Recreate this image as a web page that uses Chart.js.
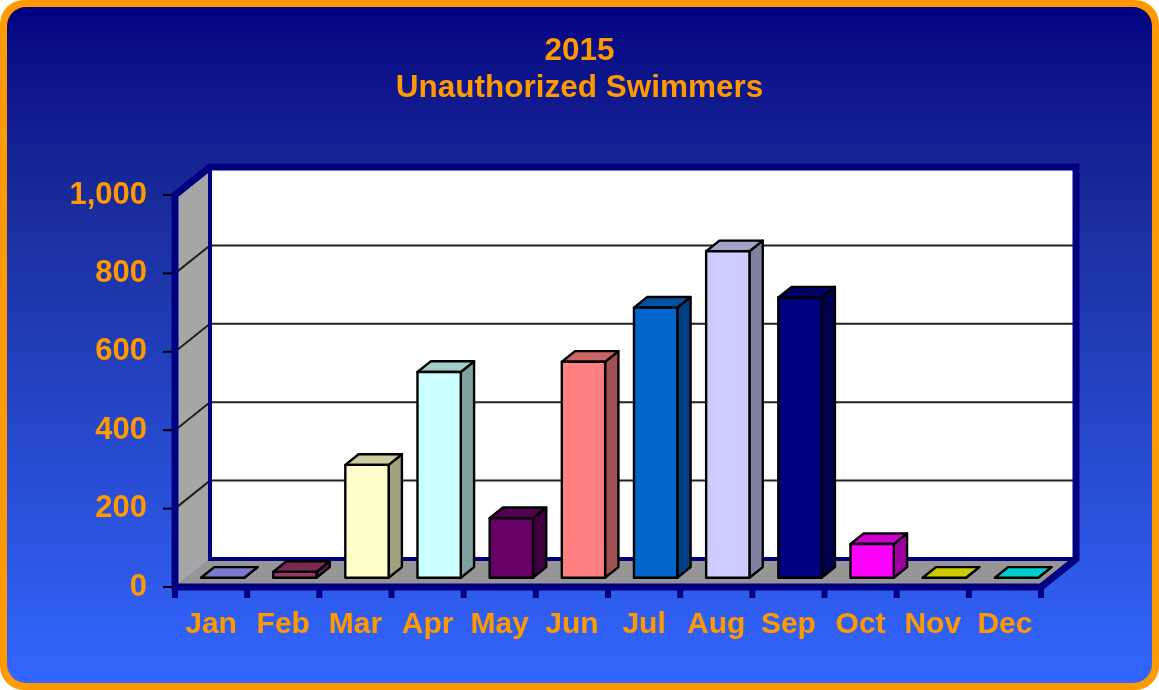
<!DOCTYPE html>
<html>
<head>
<meta charset="utf-8">
<script src="https://cdn.jsdelivr.net/npm/chart.js@4.4.1/dist/chart.umd.min.js"></script>
<style>
  html, body { margin: 0; padding: 0; background: #fff; }
  #wrap { width: 1159px; height: 690px; position: relative; }
</style>
</head>
<body>
<div id="wrap"><canvas id="swimChart"></canvas></div>
<script>
const months = ["Jan", "Feb", "Mar", "Apr", "May", "Jun", "Jul", "Aug", "Sep", "Oct", "Nov", "Dec"];
const swimmers = [0, 15, 288, 525, 152, 551, 689, 833, 715, 86, 0, 0];
const barColors = ["#9999FF", "#993366", "#FFFFCC", "#CCFFFF", "#660066", "#FF8080",
                   "#0066CC", "#CCCCFF", "#000080", "#FF00FF", "#FFFF00", "#00FFFF"];
const yTicks = [0, 200, 400, 600, 800, 1000];
const titleLines = ["2015", "Unauthorized Swimmers"];

const ORANGE = "#FF9900";
const NAVY = "#000080";
const FONT = "'Liberation Sans', Arial, sans-serif";

// 3d depth of the floor / walls, and where the bars sit inside it
const DX = 35, DY = -28;
const BAR_FRONT = 0.33, BAR_BACK = 0.71;

const shade = (hex, f) => {
    const n = parseInt(hex.slice(1), 16);
    const r = Math.round(((n >> 16) & 255) * f);
    const g = Math.round(((n >> 8) & 255) * f);
    const b = Math.round((n & 255) * f);
    return `rgb(${r},${g},${b})`;
}

const poly = (ctx, pts) => {
    ctx.beginPath();
    ctx.moveTo(pts[0][0], pts[0][1]);
    for (let i = 1; i < pts.length; i++) ctx.lineTo(pts[i][0], pts[i][1]);
    ctx.closePath();
}

const backdrop = {
    id: "backdrop",
    beforeDraw(chart) {
        const { ctx, width: w, height: h } = chart;
        ctx.save();
        ctx.fillStyle = "#fff";
        ctx.fillRect(0, 0, w, h);
        ctx.fillStyle = ORANGE;
        ctx.beginPath();
        ctx.roundRect(0, 0, w, h, 24);
        ctx.fill();
        const g = ctx.createLinearGradient(0, 7, 0, h - 7);
        g.addColorStop(0, "#000080");
        g.addColorStop(0.06, "#0a0f86");
        g.addColorStop(0.3, "#1a2d9c");
        g.addColorStop(1, "#3366FF");
        ctx.fillStyle = g;
        ctx.beginPath();
        ctx.roundRect(7, 7, w - 14, h - 14, 19);
        ctx.fill();
        ctx.restore();
    }
};

const walls = {
    id: "walls",
    beforeDatasetsDraw(chart) {
        const { ctx } = chart;
        const { left, right, top, bottom } = chart.chartArea;
        const yScale = chart.scales.y;
        const xScale = chart.scales.x;
        ctx.save();

        // side wall
        ctx.fillStyle = "#A6A6A6";
        poly(ctx, [[left, bottom], [left, top], [left + DX, top + DY], [left + DX, bottom + DY]]);
        ctx.fill();
        // back wall
        ctx.fillStyle = "#fff";
        ctx.fillRect(left + DX, top + DY, right - left, bottom - top);
        // floor
        ctx.fillStyle = "#969696";
        poly(ctx, [[left, bottom], [right, bottom], [right + DX, bottom + DY], [left + DX, bottom + DY]]);
        ctx.fill();

        // gridlines
        ctx.strokeStyle = "#222";
        ctx.lineWidth = 2;
        yTicks.forEach(v => {
            if (v <= 0 || v >= 1000) return;
            const py = yScale.getPixelForValue(v);
            ctx.beginPath();
            ctx.moveTo(left, py);
            ctx.lineTo(left + DX, py + DY);
            ctx.lineTo(right + DX, py + DY);
            ctx.stroke();
        });

        // y tick marks
        ctx.strokeStyle = "#000";
        ctx.lineWidth = 2;
        yTicks.forEach(v => {
            const py = yScale.getPixelForValue(v);
            ctx.beginPath();
            ctx.moveTo(left - 12, py);
            ctx.lineTo(left, py);
            ctx.stroke();
        });

        // x tick stubs
        ctx.fillStyle = NAVY;
        for (let i = 0; i <= months.length; i++) {
            const px = xScale.getPixelForValue(i - 0.5);
            ctx.fillRect(px - 3, bottom + 2, 6, 9);
        }

        // inner edges
        ctx.strokeStyle = NAVY;
        ctx.lineJoin = "miter";
        ctx.lineWidth = 4;
        ctx.beginPath();
        ctx.moveTo(left + DX, top + DY);
        ctx.lineTo(left + DX, bottom + DY);
        ctx.lineTo(right + DX, bottom + DY);
        ctx.stroke();

        // outer edges
        ctx.lineWidth = 7;
        poly(ctx, [[left, bottom], [left, top], [left + DX, top + DY], [right + DX, top + DY],
                   [right + DX, bottom + DY], [right, bottom]]);
        ctx.stroke();
        ctx.restore();
    }
};

const bars3d = {
    id: "bars3d",
    afterDatasetsDraw(chart) {
        const { ctx } = chart;
        const meta = chart.getDatasetMeta(0);
        const ox = DX * BAR_FRONT, oy = DY * BAR_FRONT;
        const bx = DX * (BAR_BACK - BAR_FRONT), by = DY * (BAR_BACK - BAR_FRONT);
        ctx.save();
        ctx.strokeStyle = "#000";
        ctx.lineWidth = 2.4;
        ctx.lineJoin = "round";
        meta.data.forEach((bar, i) => {
            const { x, y, base, width } = bar.getProps(["x", "y", "base", "width"], true);
            const col = barColors[i];
            const x0 = x - width / 2 + ox, x1 = x0 + width;
            const yt = y + oy, yb = base + oy;

            ctx.fillStyle = shade(col, 0.63);
            poly(ctx, [[x1, yb], [x1, yt], [x1 + bx, yt + by], [x1 + bx, yb + by]]);
            ctx.fill(); ctx.stroke();

            ctx.fillStyle = shade(col, 0.8);
            poly(ctx, [[x0, yt], [x1, yt], [x1 + bx, yt + by], [x0 + bx, yt + by]]);
            ctx.fill(); ctx.stroke();

            if (yb - yt > 0.5) {
                ctx.fillStyle = col;
                poly(ctx, [[x0, yt], [x1, yt], [x1, yb], [x0, yb]]);
                ctx.fill(); ctx.stroke();
            }
        });
        ctx.restore();
    }
};

new Chart(document.getElementById("swimChart"), {
    type: "bar",
    data: {
        labels: months,
        datasets: [{
            label: titleLines[1],
            data: swimmers,
            backgroundColor: "rgba(0,0,0,0)",
            borderWidth: 0,
            barPercentage: 0.6,
            categoryPercentage: 1,
        }]
    },
    options: {
        responsive: true,
        maintainAspectRatio: false,
        animation: false,
        events: [],
        layout: { padding: 0 },
        plugins: {
            legend: { display: false },
            tooltip: { enabled: false },
            title: {
                display: true,
                text: titleLines,
                color: ORANGE,
                font: { family: FONT, size: 31.5, weight: "bold", lineHeight: 1.2 },
                padding: { top: 32, bottom: 87.4 },
            },
        },
        scales: {
            x: {
                grid: { display: false },
                border: { display: false },
                ticks: {
                    color: ORANGE,
                    font: { family: FONT, size: 30, weight: "bold" },
                    padding: 12,
                    maxRotation: 0,
                    autoSkip: false,
                },
                afterFit(s) { s.height = 103; },
            },
            y: {
                min: 0,
                max: 1000,
                afterBuildTicks(s) { s.ticks = yTicks.map(v => ({ value: v })); },
                grid: { display: false },
                border: { display: false },
                ticks: {
                    color: ORANGE,
                    font: { family: FONT, size: 31, weight: "bold" },
                    padding: 20,
                    callback: v => v.toLocaleString("en-US"),
                },
                afterFit(s) { s.width = 175; },
            },
            // empty right-hand axis that only reserves the margin
            yRight: {
                position: "right",
                grid: { display: false },
                border: { display: false },
                ticks: { display: false },
                afterFit(s) { s.width = 118; },
            },
        },
    },
    plugins: [backdrop, walls, bars3d],
});
</script>
</body>
</html>
